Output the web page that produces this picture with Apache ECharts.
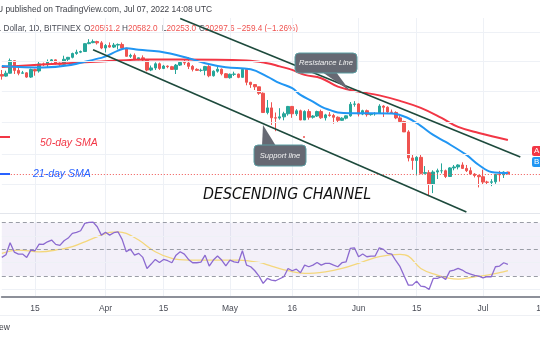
<!DOCTYPE html>
<html><head><meta charset="utf-8">
<script src="https://cdn.jsdelivr.net/npm/echarts@6/dist/echarts.min.js"></script>
<style>html,body{margin:0;padding:0;background:#fff;overflow:hidden}#c{width:540px;height:340px}</style>
</head><body><div id="c"></div>
<script>
// ---- categories (daily, BTC trades every day) ----
const firstDay = '2022-03-07';
const lastCategory = '2022-07-16';
const dates = [];
(function(){ let d = new Date(firstDay + 'T00:00:00Z'); const end = new Date(lastCategory + 'T00:00:00Z');
  while (d <= end) { dates.push(d.toISOString().slice(0,10)); d = new Date(d.getTime() + 86400000); } })();

// ---- x tick labels ----
const tickDates  = ['2022-03-15','2022-04-01','2022-04-15','2022-05-01','2022-05-16','2022-06-01','2022-06-15','2022-07-01','2022-07-15'];
const tickLabels = ['15','Apr','15','May','16','Jun','15','Jul','15'];

// ---- BTC/USD daily OHLC, Mar 7 .. Jul 7 2022 ----
const opens = [38420,38020,38740,41980,39440,38730,38820,37790,39670,39290,41120,40920,41760,42200,41260,41000,42360,42890,43960,44330,44520,46820,47130,47450,47060,
45530,46280,45810,46400,46580,45500,43170,43440,42250,42750,42160,39530,40070,41150,39940,40550,40390,39690,40800,41490,41360,40480,39710,39450,39450,40430,38110,39240,39740,38600,
37640,38470,38520,37720,39690,36550,36010,35500,34060,30100,31010,29100,29050,29280,29860,31300,29860,30430,28700,30300,29200,29430,30290,29100,29650,29540,29200,28630,29030,29470,31730,
31800,29800,30460,29700,29860,29910,31370,31130,30200,30110,29080,28420,26580,22490,22140,22580,20380,20470,19020,20550,20720,20720,19970,21100,21230,21500,21030,20730,20280,20100,
19940,19270,19240,19300,20230,20190,20551.2];
const closes = [38020,38740,41980,39440,38730,38820,37790,39670,39290,41120,40920,41760,42200,41260,41000,42360,42890,43960,44330,44520,46820,47130,47450,47060,45530,
46280,45810,46400,46580,45500,43170,43440,42250,42750,42160,39530,40070,41150,39940,40550,40390,39690,40800,41490,41360,40480,39710,39450,39450,40430,38110,39240,39740,38600,37640,
38470,38520,37720,39690,36550,36010,35500,34060,30100,31010,29100,29050,29280,29860,31300,29860,30430,28700,30300,29200,29430,30290,29100,29650,29540,29200,28630,29030,29470,31730,31800,
29800,30460,29700,29860,29910,31370,31130,30200,30110,29080,28420,26580,22490,22140,22580,20380,20470,19020,20550,20720,20720,19970,21100,21230,21500,21030,20730,20280,20100,19940,
19270,19240,19300,20230,20190,20550,20297.6];
const highs = [39550,39360,42560,42020,40230,39310,39000,39900,39860,41720,41470,42300,42400,42300,41520,43340,43000,44200,45040,44800,46900,48190,48100,47700,47600,
46700,47200,47030,46880,47180,45500,43900,43960,42800,43430,42420,40690,41540,41480,40840,40700,40600,41100,41730,42170,42950,40800,39980,39900,40600,40800,39450,40370,39930,38780,
38660,39120,38630,39900,39800,36650,36130,35500,34250,32620,32150,30100,30950,30250,31400,31400,30750,30660,30530,30750,29600,30460,30660,29850,30180,29850,29360,29200,29550,32200,32380,
31950,30650,30670,29950,30150,31750,31550,31320,30690,30340,29450,28550,26880,23000,22750,22980,21350,20800,20780,21000,21720,20870,21200,21500,21600,21870,21500,21180,20400,20180,
20870,19430,19630,20300,20700,20640,20582];
const lows = [37170,37870,38660,38550,38230,38660,37590,37580,38120,38880,40530,40150,41530,40930,40540,40890,41900,42600,43600,44070,44420,46660,46950,46560,45200,
44250,45620,45530,45120,45380,43100,42730,42130,42130,41900,39200,39250,39560,39570,39770,40000,39580,38540,40570,40840,39780,39180,39300,39100,38230,37750,37900,38880,38200,37600,
37400,38050,37520,37700,35850,35260,34780,33720,30050,29750,27800,26700,28750,28640,29500,29100,29450,28650,28700,28750,28950,29250,28900,28600,29300,28020,28250,28560,28800,29300,31250,
29350,29600,29320,29500,29500,29890,29250,29850,29970,28850,28150,26560,22000,20850,20100,20250,20250,17600,17950,19650,20370,19770,19900,20780,20900,20980,20550,20200,19850,18620,
18980,18960,18770,19050,19330,19780,20253];
const lastClose = 20297.6;

// ---- moving averages: [day index, price] ----
const sma50 = [[0,40340],[16,41310],[24,41740],[35,42330],[43,42330],[59,42060],[64,41310],[67,40470],[70,39570],[73,38320],[77,37520],[81,35550],[86,34430],[91,33600],[96,32430],[101,31010],[106,29080],[110,27450],[115,26410],[122,25250]];
const sma21 = [[0,40600],[10,40210],[24,42740],[28,44790],[30,45490],[33,45000],[38,44510],[45,42660],[49,41310],[54,40260],[60,39750],[64,37910],[67,36340],[70,35190],[72,33710],[75,32290],[77,31270],[79,30610],[81,30120],[84,29970],[89,29970],[94,29930],[98,29020],[101,27620],[104,26070],[107,24920],[112,22930],[115,21500],[118,20560],[122,20430]];

// ---- RSI (14) and its moving average ----
const rsi = [44,46,55,48,46.5,46.5,44,49.5,49,54,53.8,55.7,57,53.8,53,56.5,58.5,62,62.8,64,69.5,70.2,70.5,67,60.7,
62.8,60.7,62.5,63.2,57.5,48.2,50.2,45.7,47,44,35.7,39,42.5,40.2,42.5,41.5,40,45.7,48.2,46.5,42.5,40,40,40.5,45.7,37.5,42,45,42,37.7,
42,40.7,40,49,38.2,37,34,30,24.5,28.2,27,26.5,28,29.5,35.7,34,35.2,32.5,38.2,37,38.2,40.2,38.2,39.5,39.5,38.2,37,40,40.7,50.7,51.2,
44.5,46.5,44.5,45,45,51.2,50,47,46.5,41.5,37,30,23.2,23.2,26.2,22.5,22,20,28.2,28.2,29.5,27.5,33.7,34.5,35.7,34.5,32.5,31.5,30.5,30,
28.7,29.5,29.5,37,37.5,40,38.7];
const rsiMA = [[0,47],[4,49.5],[9,48.2],[14,50],[17,52],[21,57],[24,60.7],[26,62.8],[28,63.2],[30,62],[33,57],[37,48.2],[41,43.2],[45,42],[52,42],[57,42],[62,40.2],[65,37.5],[69,34],[73,32],[78,33.2],[82,35.7],[87,40.7],[91,44.5],[96,46.2],[98,45],[101,35.7],[105,30.7],[108,28.2],[110,27.7],[114,29.5],[117,30.7],[120,32.5],[122,34]];

// ---- drawn trend lines [date, price] ----
const resistanceLine = [['2022-04-19',55000],['2022-07-10',22640]];
const supportLine    = [['2022-03-29',45000],['2022-06-27',15900]];

// ---- price grid levels & RSI levels ----
const priceGrid = [50500,41900,34400,28200,23100,19000];
const rsiBand = [30,70];
const rsiDashed = [30,50,70];
const rsiGrid = [20,40,60];

const candleData = opens.map((o,i)=>[o, closes[i], lows[i], highs[i]]);
const tickSet = {}; tickDates.forEach((d,i)=>tickSet[d]=tickLabels[i]);
const isTick = (idx, val) => Object.prototype.hasOwnProperty.call(tickSet, val);

const chart = echarts.init(document.getElementById('c'), null, {width:540, height:340});
const FONT = '"Liberation Sans", Arial, sans-serif';
const gridColor = '#eef1f6';
const option = {
  animation:false,
  backgroundColor:'#ffffff',
  grid:[{left:1.82, width:543.4, top:18, height:195, outerBoundsMode:'none', containLabel:false},
        {left:1.82, width:543.4, top:213, height:84, outerBoundsMode:'none', containLabel:false}],
  xAxis:[
    {type:'category', gridIndex:0, data:dates, boundaryGap:false, axisLine:{show:false}, axisTick:{show:false}, axisLabel:{show:false},
     splitLine:{show:true, interval:isTick, lineStyle:{color:gridColor, width:1}}},
    {type:'category', gridIndex:1, data:dates, boundaryGap:false, axisLine:{show:true, lineStyle:{color:'#8d9099', width:2}}, axisTick:{show:false},
     axisLabel:{interval:isTick, formatter:v=>tickSet[v]||'', color:'#4a4d57', fontSize:8.5, fontFamily:FONT, margin:7, hideOverlap:false},
     splitLine:{show:true, interval:isTick, lineStyle:{color:gridColor, width:1}}}
  ],
  yAxis:[
    {type:'log', logBase:10, gridIndex:0, min:15800, max:55200, axisLine:{show:false}, axisTick:{show:false}, axisLabel:{show:false}, splitLine:{show:false}},
    {type:'value', gridIndex:1, min:14.3, max:77.3, axisLine:{show:false}, axisTick:{show:false}, axisLabel:{show:false}, splitLine:{show:false}}
  ],
  series:[
    {type:'line', xAxisIndex:0, yAxisIndex:0, data:[], z:0, silent:true,
     markLine:{silent:true, symbol:'none', label:{show:false}, lineStyle:{color:gridColor, width:1, type:'solid'}, data:priceGrid.map(v=>({yAxis:v}))}},
    {type:'line', xAxisIndex:1, yAxisIndex:1, data:[], z:0, silent:true,
     markArea:{silent:true, itemStyle:{color:'rgba(126,87,194,0.09)'}, data:[[{yAxis:rsiBand[0]},{yAxis:rsiBand[1]}]]},
     markLine:{silent:true, symbol:'none', label:{show:false}, lineStyle:{color:gridColor, width:1, type:'solid'}, data:rsiGrid.map(v=>({yAxis:v}))}},
    {type:'line', xAxisIndex:1, yAxisIndex:1, data:[], z:1, silent:true,
     markLine:{silent:true, symbol:'none', label:{show:false}, lineStyle:{color:'#9a9da6', width:1, type:[4,3]}, data:rsiDashed.map(v=>({yAxis:v}))}},
    {type:'candlestick', xAxisIndex:0, yAxisIndex:0, data:candleData, barWidth:3, z:3,
     itemStyle:{color:'#26a69a', color0:'#ef5350', borderColor:'#26a69a', borderColor0:'#ef5350', borderWidth:1},
     markLine:{silent:true, symbol:'none', label:{show:false}, lineStyle:{color:'#ef5350', width:1, type:[1,2]}, data:[{yAxis:lastClose}]}},
    {type:'line', xAxisIndex:0, yAxisIndex:0, data:sma50, smooth:0.4, showSymbol:false, z:4, lineStyle:{color:'#f23645', width:2}},
    {type:'line', xAxisIndex:0, yAxisIndex:0, data:sma21, smooth:0.4, showSymbol:false, z:4, lineStyle:{color:'#2196f3', width:2}},
    {type:'line', xAxisIndex:0, yAxisIndex:0, data:[], z:5, silent:true,
     markLine:{silent:true, symbol:'none', label:{show:false}, lineStyle:{color:'#1d4a3c', width:1.6, type:'solid'},
       data:[[{coord:resistanceLine[0]},{coord:resistanceLine[1]}],[{coord:supportLine[0]},{coord:supportLine[1]}]]}},
    {type:'line', xAxisIndex:1, yAxisIndex:1, data:rsiMA, smooth:0.4, showSymbol:false, z:4, lineStyle:{color:'#f4d77c', width:1.3}},
    {type:'line', xAxisIndex:1, yAxisIndex:1, data:rsi, showSymbol:false, z:5, lineStyle:{color:'#8c6ad0', width:1.3}}
  ],
  graphic:[
    {type:'line', shape:{x1:0,y1:213.5,x2:540,y2:213.5}, style:{stroke:'#e3e6ec', lineWidth:1}, z:1},
    {type:'line', shape:{x1:0,y1:315.5,x2:540,y2:315.5}, style:{stroke:'#eef0f4', lineWidth:1}, z:1},
    {type:'text', x:-3, y:10, style:{text:'U published on TradingView.com, Jul 07, 2022 14:08 UTC', fontSize:8.4, fontFamily:FONT, fill:'#3d3f46', verticalAlign:'middle'}},
    {type:'text', x:-1, y:29, style:{text:'. Dollar, 1D, BITFINEX', fontSize:8.2, fontFamily:FONT, fill:'#4a4d57', verticalAlign:'middle'}},
    {type:'text', x:84, y:29, style:{text:'{k|O}{v|20551.2}', rich:{k:{fill:'#4a4d57',fontSize:8.2,fontFamily:FONT},v:{fill:'#ef5350',fontSize:8.2,fontFamily:FONT}}, verticalAlign:'middle'}},
    {type:'text', x:122, y:29, style:{text:'{k|H}{v|20582.0}', rich:{k:{fill:'#4a4d57',fontSize:8.2,fontFamily:FONT},v:{fill:'#ef5350',fontSize:8.2,fontFamily:FONT}}, verticalAlign:'middle'}},
    {type:'text', x:162, y:29, style:{text:'{k|L}{v|20253.0}', rich:{k:{fill:'#4a4d57',fontSize:8.2,fontFamily:FONT},v:{fill:'#ef5350',fontSize:8.2,fontFamily:FONT}}, verticalAlign:'middle'}},
    {type:'text', x:199, y:29, style:{text:'{k|C}{v|20297.6}', rich:{k:{fill:'#4a4d57',fontSize:8.2,fontFamily:FONT},v:{fill:'#ef5350',fontSize:8.2,fontFamily:FONT}}, verticalAlign:'middle'}},
    {type:'text', x:237, y:29, style:{text:'\u2212259.4 (\u22121.26%)', fontSize:8.2, fontFamily:FONT, fill:'#ef5350', verticalAlign:'middle'}},
    // legend notes
    {type:'line', shape:{x1:0,y1:137,x2:10,y2:137}, style:{stroke:'#f23645', lineWidth:2}, z:10},
    {type:'text', x:40, y:143, style:{text:'50-day SMA', fontSize:10.5, fontStyle:'italic', fontFamily:FONT, fill:'#f23645', verticalAlign:'middle'}, z:10},
    {type:'line', shape:{x1:0,y1:174,x2:10,y2:174}, style:{stroke:'#2962ff', lineWidth:2}, z:10},
    {type:'text', x:33, y:174, style:{text:'21-day SMA', fontSize:10.5, fontStyle:'italic', fontFamily:FONT, fill:'#2962ff', verticalAlign:'middle'}, z:10},
    {type:'text', x:203, y:195, style:{text:'DESCENDING CHANNEL', fontSize:15.8, fontStyle:'italic', fontFamily:'"Liberation Sans Narrow", "DejaVu Sans Condensed", Arial, sans-serif', fill:'#111', verticalAlign:'middle'}, z:10},
    // small marker dot
    {type:'circle', shape:{cx:304, cy:137, r:1}, style:{fill:'#ef5350'}, z:10},
    // callouts
    {type:'polygon', shape:{points:[[322,72],[336,72],[350,91]]}, style:{fill:'#666973'}, z:10},
    {type:'rect', shape:{x:295,y:53,width:62,height:20,r:4}, style:{fill:'#666973', stroke:'#5b9ea3', lineWidth:1}, z:10},
    {type:'text', x:326, y:63, style:{text:'Resistance Line', fontSize:7.6, fontStyle:'italic', fontFamily:FONT, fill:'#f2f2f2', align:'center', verticalAlign:'middle'}, z:11},
    {type:'polygon', shape:{points:[[262,146],[276,146],[263,125]]}, style:{fill:'#666973'}, z:10},
    {type:'rect', shape:{x:254,y:145,width:52,height:21,r:4}, style:{fill:'#666973', stroke:'#5b9ea3', lineWidth:1}, z:10},
    {type:'text', x:280, y:155.5, style:{text:'Support line', fontSize:7.6, fontStyle:'italic', fontFamily:FONT, fill:'#f2f2f2', align:'center', verticalAlign:'middle'}, z:11},
    // price-scale tags (cut off)
    {type:'rect', shape:{x:532,y:146,width:14,height:10,r:2}, style:{fill:'#f23645'}, z:10},
    {type:'text', x:534, y:151, style:{text:'A', fontSize:8, fontFamily:FONT, fill:'#fff', verticalAlign:'middle'}, z:11},
    {type:'rect', shape:{x:532,y:157,width:14,height:10,r:2}, style:{fill:'#2196f3'}, z:10},
    {type:'text', x:534, y:162, style:{text:'B', fontSize:8, fontFamily:FONT, fill:'#fff', verticalAlign:'middle'}, z:11},
    {type:'text', x:-1, y:328, style:{text:'ew', fontSize:8.5, fontFamily:FONT, fill:'#3d3f46', verticalAlign:'middle'}}
  ]
};
chart.setOption(option);
</script>
</body></html>
